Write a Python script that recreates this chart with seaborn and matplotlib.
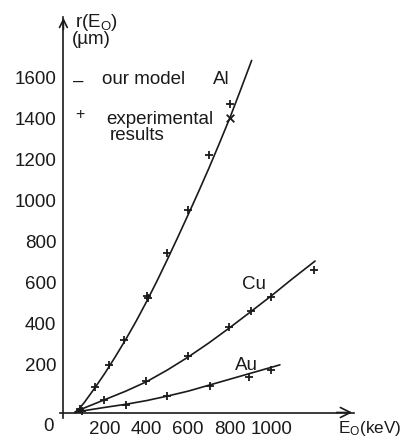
import numpy as np
import pandas as pd
import matplotlib
matplotlib.use("Agg")
import matplotlib.pyplot as plt
import seaborn as sns

# Model curves r(E0) in µm versus electron energy E0 in keV
al_model_E = [55, 75, 100, 150, 200, 250, 300, 350, 400, 450, 500, 550, 600, 650, 700, 750, 800, 850, 905]
al_model_r = [0, 18, 48, 118, 192, 272, 356, 445, 540, 640, 745, 853, 963, 1075, 1190, 1310, 1433, 1565, 1713]

cu_model_E = [55, 100, 200, 300, 400, 500, 600, 700, 800, 900, 1000, 1100, 1210]
cu_model_r = [0, 22, 63, 104, 150, 207, 270, 339, 413, 490, 568, 650, 737]

au_model_E = [55, 100, 200, 300, 400, 500, 600, 700, 800, 900, 1000, 1041]
au_model_r = [0, 9, 25, 40, 58, 80, 104, 133, 162, 191, 220, 232]

# Experimental results
al_exp_E = [80, 150, 220, 290, 400, 407, 500, 600, 700, 800]
al_exp_r = [15, 124, 233, 354, 567, 556, 776, 986, 1251, 1502]
al_x_E = [800]
al_x_r = [1433]

cu_exp_E = [90, 194, 399, 599, 797, 901, 998, 1205]
cu_exp_r = [8, 61, 152, 273, 415, 493, 564, 692]

au_exp_E = [302, 498, 704, 893, 996]
au_exp_r = [38, 78, 131, 175, 205]

x_ticks = [200, 400, 600, 800, 1000, 1200]
x_tick_labels = ["200", "400", "600", "800", "1000", ""]
y_ticks = [200, 400, 600, 800, 1000, 1200, 1400, 1600]
y_tick_labels = [str(v) for v in y_ticks]

model = pd.concat([
    pd.DataFrame({"E": al_model_E, "r": al_model_r, "metal": "Al"}),
    pd.DataFrame({"E": cu_model_E, "r": cu_model_r, "metal": "Cu"}),
    pd.DataFrame({"E": au_model_E, "r": au_model_r, "metal": "Au"}),
], ignore_index=True)
exp = pd.concat([
    pd.DataFrame({"E": al_exp_E, "r": al_exp_r, "metal": "Al"}),
    pd.DataFrame({"E": cu_exp_E, "r": cu_exp_r, "metal": "Cu"}),
    pd.DataFrame({"E": au_exp_E, "r": au_exp_r, "metal": "Au"}),
], ignore_index=True)
exp_x = pd.DataFrame({"E": al_x_E, "r": al_x_r})

sns.set_style("white")
plt.rcParams["font.family"] = ["Liberation Sans", "DejaVu Sans"]
plt.rcParams["mathtext.fontset"] = "custom"
plt.rcParams["mathtext.rm"] = "Liberation Sans"
plt.rcParams["mathtext.it"] = "Liberation Sans"

ink = "#1a1a1a"
fs = 13.5

fig = plt.figure(figsize=(4.04, 4.43), dpi=100)
ax = fig.add_axes([0, 0, 1, 1])
ax.set_facecolor("white")

sns.lineplot(data=model, x="E", y="r", units="metal", estimator=None, sort=False,
             color=ink, lw=1.2, ax=ax, legend=False)
sns.scatterplot(data=exp, x="E", y="r", marker="+", s=40, color=ink,
                linewidth=1.3, ax=ax, legend=False)
sns.scatterplot(data=exp_x, x="E", y="r", marker="x", s=30, color=ink,
                linewidth=1.3, ax=ax, legend=False)

ax.set_xlim(-304.8, 1637.5)
ax.set_ylim(-148.4, 2007.3)
ax.set_xlabel("")
ax.set_ylabel("")

# axes drawn through the origin, with arrow heads
for side in ("top", "right"):
    ax.spines[side].set_visible(False)
ax.spines["left"].set_position(("data", 0))
ax.spines["bottom"].set_position(("data", 0))
ax.spines["left"].set_bounds(-28, 1925)
ax.spines["bottom"].set_bounds(-15, 1395)
for side in ("left", "bottom"):
    ax.spines[side].set_color(ink)
    ax.spines[side].set_linewidth(1.2)
ax.annotate("", xy=(1402, 0), xytext=(1300, 0),
            arrowprops=dict(arrowstyle="->", lw=1.2, color=ink, mutation_scale=18))
ax.annotate("", xy=(0, 1934), xytext=(0, 1850),
            arrowprops=dict(arrowstyle="->", lw=1.2, color=ink, mutation_scale=14))

ax.set_xticks(x_ticks)
ax.set_xticklabels(x_tick_labels, fontsize=fs, color=ink)
ax.set_yticks(y_ticks)
ax.set_yticklabels(y_tick_labels, fontsize=fs, color=ink)
ax.tick_params(axis="x", direction="out", length=4.3, width=1.0, pad=1.5, colors=ink)
ax.tick_params(axis="y", direction="out", length=4.3, width=1.0, pad=0.8, colors=ink)
plt.setp(ax.get_yticklabels(), va="baseline")

ax.text(-74, -68, "0", fontsize=fs, color=ink, ha="center", va="center")

# axis titles
ax.text(56, 1900, r"r(E$_{\mathrm{O}}$)", fontsize=fs, color=ink, ha="left", va="center")
ax.text(41, 1813, "(µm)", fontsize=fs, color=ink, ha="left", va="center")
ax.text(1320, -100, r"E$_{\mathrm{O}}$(keV)", fontsize=12.3, color=ink, ha="left", va="baseline")

# key
ax.text(48, 1590, "–", fontsize=fs, color=ink, ha="left", va="baseline")
ax.text(186, 1600, "our model", fontsize=fs, color=ink, ha="left", va="baseline")
ax.text(80, 1448, "+", fontsize=fs - 2, color=ink, ha="center", va="center")
ax.text(205, 1404, "experimental", fontsize=fs, color=ink, ha="left", va="baseline")
ax.text(224, 1328, "results", fontsize=fs, color=ink, ha="left", va="baseline")

# curve labels
ax.text(718, 1600, "Al", fontsize=fs, color=ink, ha="left", va="baseline")
ax.text(859, 601, "Cu", fontsize=fs, color=ink, ha="left", va="baseline")
ax.text(825, 207, "Au", fontsize=fs, color=ink, ha="left", va="baseline")

fig.savefig("out.png", dpi=100, facecolor="white")
